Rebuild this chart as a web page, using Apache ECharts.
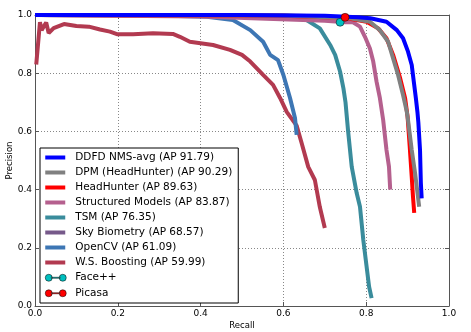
<!DOCTYPE html>
<html>
<head>
<meta charset="utf-8">
<script src="https://cdn.jsdelivr.net/npm/echarts@6/dist/echarts.min.js"></script>
<style>
  html, body { margin: 0; padding: 0; background: #fff; }
  #chart { width: 471px; height: 332px; }
</style>
</head>
<body>
<div id="chart"></div>
<script>
// [recall, precision] points
const ddfd = [[0, 1], [0.5, 1.0], [0.7, 0.997], [0.78, 0.992], [0.81, 0.989], [0.849, 0.977], [0.874, 0.948],
  [0.889, 0.92], [0.901, 0.874], [0.91, 0.828], [0.915, 0.771], [0.92, 0.714], [0.924, 0.663], [0.926, 0.63],
  [0.93, 0.536], [0.932, 0.423], [0.934, 0.37]];
const dpm = [[0, 1], [0.6, 0.998], [0.761, 0.989], [0.809, 0.977], [0.833, 0.948], [0.853, 0.908], [0.865, 0.851],
  [0.877, 0.794], [0.889, 0.725], [0.898, 0.668], [0.901, 0.639], [0.91, 0.536], [0.918, 0.457], [0.925, 0.376],
  [0.928, 0.341]];
const headHunter = [[0, 1], [0.6, 0.997], [0.75, 0.99], [0.801, 0.977], [0.829, 0.954], [0.849, 0.92], [0.865, 0.863],
  [0.882, 0.783], [0.894, 0.714], [0.9, 0.65], [0.905, 0.55], [0.91, 0.444], [0.913, 0.376], [0.916, 0.32]];
const structured = [[0, 1], [0.4, 0.995], [0.7, 0.98], [0.75, 0.975], [0.768, 0.975], [0.785, 0.96], [0.797, 0.925],
  [0.809, 0.885], [0.817, 0.84], [0.825, 0.771], [0.833, 0.715], [0.841, 0.639], [0.849, 0.536], [0.855, 0.479],
  [0.858, 0.4]];
const tsm = [[0, 1], [0.5, 0.998], [0.62, 0.992], [0.656, 0.983], [0.688, 0.954], [0.713, 0.897], [0.725, 0.863],
  [0.737, 0.805], [0.745, 0.748], [0.75, 0.7], [0.756, 0.605], [0.765, 0.479], [0.777, 0.388], [0.785, 0.341],
  [0.793, 0.227], [0.801, 0.135], [0.807, 0.066], [0.813, 0.027]];
const skyBiometry = [[0, 1], [0.3, 1], [0.6, 0.998], [0.686, 0.996]];
const openCV = [[0, 1], [0.3, 0.998], [0.415, 0.994], [0.478, 0.983], [0.52, 0.948], [0.551, 0.908], [0.568, 0.863],
  [0.587, 0.845], [0.6, 0.794], [0.616, 0.715], [0.628, 0.646], [0.632, 0.588]];
const wsBoosting = [[0.003, 0.83], [0.012, 0.975], [0.016, 0.948], [0.027, 0.974], [0.033, 0.938], [0.045, 0.955],
  [0.07, 0.969], [0.1, 0.962], [0.13, 0.96], [0.157, 0.95], [0.181, 0.943], [0.198, 0.934], [0.237, 0.934],
  [0.285, 0.937], [0.333, 0.935], [0.35, 0.925], [0.374, 0.908], [0.43, 0.897], [0.471, 0.88], [0.5, 0.863],
  [0.52, 0.84], [0.551, 0.794], [0.575, 0.76], [0.592, 0.715], [0.608, 0.667], [0.632, 0.62], [0.644, 0.56],
  [0.66, 0.478], [0.676, 0.433], [0.688, 0.34], [0.70, 0.268]];
const facePP = [[0.737, 0.975]];
const picasa = [[0.749, 0.992]];

const curveNames = ['DDFD NMS-avg (AP 91.79)', 'DPM (HeadHunter) (AP 90.29)', 'HeadHunter (AP 89.63)',
  'Structured Models (AP 83.87)', 'TSM (AP 76.35)', 'Sky Biometry (AP 68.57)', 'OpenCV (AP 61.09)',
  'W.S. Boosting (AP 59.99)'];
const curveData = [ddfd, dpm, headHunter, structured, tsm, skyBiometry, openCV, wsBoosting];
const curveColors = ['#0000ff', '#808080', '#ff0000', '#b5608e', '#3a8c9c', '#76598a', '#3d76b4', '#b23a50'];
const pointNames = ['Face++', 'Picasa'];
const pointData = [facePP, picasa];
const pointColors = ['#00bfbf', '#ff0000'];

const font = 'DejaVu Sans';
const lineIcon = 'path://M0,0M25,11M0,3.5h20v4H0z';
const dotIcon = 'path://M0,0M25,11M0,5.5a3.5,3.5 0 1,0 7,0a3.5,3.5 0 1,0 -7,0zM14,5.5a3.5,3.5 0 1,0 7,0a3.5,3.5 0 1,0 -7,0zM6,5h9v1H6z';

const chart = echarts.init(document.getElementById('chart'));

const series = [];
// draw weakest first so DDFD sits on top, like the reference
for (let i = curveNames.length - 1; i >= 0; i--) {
  series.push({
    name: curveNames[i],
    type: 'line',
    symbol: 'none',
    data: curveData[i],
    color: curveColors[i],
    lineStyle: { width: 4, color: curveColors[i] },
    animation: false
  });
}
for (let i = 0; i < pointNames.length; i++) {
  series.push({
    name: pointNames[i],
    type: 'scatter',
    symbol: 'circle',
    symbolSize: 8,
    data: pointData[i],
    color: pointColors[i],
    itemStyle: { color: pointColors[i], borderColor: '#000', borderWidth: 0.5, opacity: 1 },
    z: 5,
    animation: false
  });
}

const legendData = curveNames.map(n => ({ name: n, icon: lineIcon }))
  .concat(pointNames.map(n => ({
    name: n,
    icon: dotIcon,
    itemStyle: { borderColor: '#000', borderWidth: 0.5 }
  })));

const frameAxis = {
  type: 'value',
  min: 0,
  max: 1,
  interval: 0.2,
  axisLine: { show: true, onZero: false, lineStyle: { color: '#555', width: 1 } },
  axisTick: { show: true, inside: true, length: 4, lineStyle: { color: '#555' } },
  axisLabel: { show: false },
  splitLine: { show: false }
};

const option = {
  backgroundColor: '#fff',
  animation: false,
  grid: { left: 35, right: 22, top: 15, bottom: 26, containLabel: false, outerBoundsMode: 'none' },
  legend: {
    data: legendData,
    orient: 'vertical',
    left: 40,
    top: 148,
    padding: [4, 6, 4, 5],
    itemGap: 4,
    itemWidth: 25,
    itemHeight: 11,
    borderColor: '#000',
    borderWidth: 1,
    borderRadius: 0,
    backgroundColor: '#fff',
    itemStyle: { borderWidth: 0 },
    textStyle: { fontFamily: font, fontSize: 10.5, color: '#000', padding: [0, 0, 0, 0] },
    selectedMode: false
  },
  xAxis: [{
    type: 'value',
    min: 0,
    max: 1,
    interval: 0.2,
    name: 'Recall',
    nameLocation: 'middle',
    nameGap: 15,
    nameMoveOverlap: false,
    nameTextStyle: { fontFamily: font, fontSize: 8.5, color: '#000' },
    axisLine: { show: true, onZero: false, lineStyle: { color: '#555', width: 1 } },
    axisTick: { show: true, inside: true, length: 4, lineStyle: { color: '#555' } },
    axisLabel: { fontFamily: font, fontSize: 9, color: '#000', margin: 3, formatter: v => v.toFixed(1) },
    splitLine: { show: true, lineStyle: { color: '#888', type: [1, 2], width: 1 } }
  }, Object.assign({ position: 'top' }, frameAxis)],
  yAxis: [{
    type: 'value',
    min: 0,
    max: 1,
    interval: 0.2,
    name: 'Precision',
    nameLocation: 'middle',
    nameGap: 21,
    nameMoveOverlap: false,
    nameTextStyle: { fontFamily: font, fontSize: 8.5, color: '#000' },
    axisLine: { show: true, onZero: false, lineStyle: { color: '#555', width: 1 } },
    axisTick: { show: true, inside: true, length: 4, lineStyle: { color: '#555' } },
    axisLabel: { fontFamily: font, fontSize: 9, color: '#000', margin: 3, formatter: v => v.toFixed(1) },
    splitLine: { show: true, lineStyle: { color: '#888', type: [1, 2], width: 1 } }
  }, Object.assign({ position: 'right' }, frameAxis)],
  series: series
};

chart.setOption(option);
</script>
</body>
</html>
